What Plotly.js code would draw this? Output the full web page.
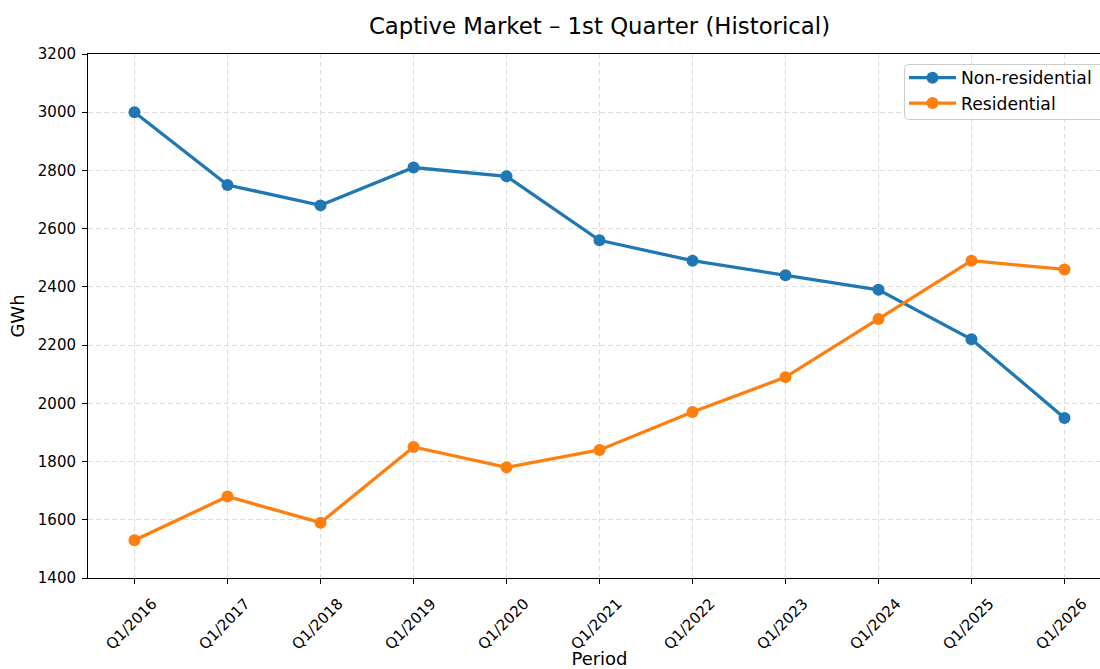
<!DOCTYPE html>
<html>
<head>
<meta charset="utf-8">
<script src="https://cdn.plot.ly/plotly-3.0.1.min.js"></script>
<style>
  html, body { margin: 0; padding: 0; overflow: hidden; background: #fff; }
  #chart { width: 1111px; height: 669px; }
</style>
</head>
<body>
<div id="chart"></div>
<script>
const periods = ["Q1/2016","Q1/2017","Q1/2018","Q1/2019","Q1/2020","Q1/2021","Q1/2022","Q1/2023","Q1/2024","Q1/2025","Q1/2026"];
const nonResidential = [3000, 2750, 2680, 2810, 2780, 2560, 2490, 2440, 2390, 2220, 1950];
const residential = [1530, 1680, 1590, 1850, 1780, 1840, 1970, 2090, 2290, 2490, 2460];
const yTicks = [1400, 1600, 1800, 2000, 2200, 2400, 2600, 2800, 3000, 3200];

const FONT = "DejaVu Sans, Liberation Sans, sans-serif";

const traces = [
  {
    x: periods, y: nonResidential, name: "Non-residential",
    type: "scatter", mode: "lines+markers",
    line: { color: "#1f77b4", width: 3.3 },
    marker: { color: "#1f77b4", size: 12 }
  },
  {
    x: periods, y: residential, name: "Residential",
    type: "scatter", mode: "lines+markers",
    line: { color: "#ff7f0e", width: 3.3 },
    marker: { color: "#ff7f0e", size: 12 }
  }
];

const W = 1111, H = 669;
const L = 88, T = 54, B = 91;
const PW = W - L, PH = H - T - B;
const xp = px => (px - L) / PW;
const yp = py => 1 - (py - T) / PH;

// legend frame (rounded box), drawn as a paper-space shape
function roundedBox(x0, y0, x1, y1, r) {
  const rx = r / PW, ry = r / PH;
  const a = xp(x0), b = xp(x1), top = yp(y0), bot = yp(y1);
  return `M ${a + rx},${top} L ${b - rx},${top} Q ${b},${top} ${b},${top - ry} ` +
         `L ${b},${bot + ry} Q ${b},${bot} ${b - rx},${bot} ` +
         `L ${a + rx},${bot} Q ${a},${bot} ${a},${bot + ry} ` +
         `L ${a},${top - ry} Q ${a},${top} ${a + rx},${top} Z`;
}

const layout = {
  width: W, height: H,
  margin: { l: L, r: 0, t: T, b: B, pad: 0 },
  paper_bgcolor: "#ffffff",
  plot_bgcolor: "#ffffff",
  font: { family: FONT, color: "#000000", size: 15 },
  title: {
    text: "Captive Market – 1st Quarter (Historical)",
    font: { family: FONT, size: 22.8, color: "#000000" },
    x: 0.5, xref: "paper", xanchor: "center",
    y: 1 - 26 / H, yref: "container", yanchor: "middle"
  },
  showlegend: true,
  legend: {
    x: xp(904), y: yp(60),
    xanchor: "left", yanchor: "top",
    bgcolor: "rgba(0,0,0,0)",
    borderwidth: 0,
    font: { family: FONT, size: 17.2, color: "#000000" },
    itemwidth: 47
  },
  shapes: [
    {
      type: "path", xref: "paper", yref: "paper", layer: "above",
      path: roundedBox(904.5, 64.5, 1106, 119.5, 4),
      fillcolor: "rgba(255,255,255,0.8)",
      line: { color: "#cccccc", width: 1 }
    }
  ],
  xaxis: {
    type: "category",
    range: [-0.5, 10.5],
    showline: true, linecolor: "#000000", linewidth: 1, mirror: true,
    ticks: "outside", ticklen: 5, tickwidth: 1, tickcolor: "#000000",
    tickangle: -45,
    ticklabelshift: 18,
    ticklabelstandoff: 5,
    tickfont: { family: FONT, size: 15, color: "#000000" },
    showgrid: true, gridcolor: "#dddddd", gridwidth: 1, griddash: "5px,3px",
    zeroline: false,
    automargin: false,
    title: { text: "Period", font: { family: FONT, size: 18, color: "#000000" }, standoff: 22 }
  },
  yaxis: {
    range: [1400, 3200],
    tickvals: yTicks,
    ticktext: yTicks.map(String),
    showline: true, linecolor: "#000000", linewidth: 1, mirror: true,
    ticks: "outside", ticklen: 5, tickwidth: 1, tickcolor: "#000000",
    ticklabelstandoff: 3,
    tickfont: { family: FONT, size: 15, color: "#000000" },
    showgrid: true, gridcolor: "#dddddd", gridwidth: 1, griddash: "5px,3px",
    zeroline: false,
    automargin: false,
    title: { text: "GWh", font: { family: FONT, size: 18, color: "#000000" }, standoff: 8 }
  }
};

Plotly.newPlot("chart", traces, layout, { displayModeBar: false, responsive: false });
</script>
</body>
</html>
